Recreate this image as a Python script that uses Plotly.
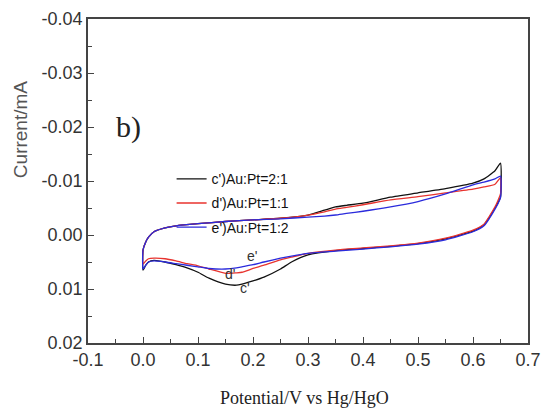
import plotly.graph_objects as go

# ---- data ----
x_upper = [0, 0.005, 0.01, 0.02, 0.04, 0.06, 0.1, 0.15, 0.2, 0.25, 0.3, 0.33, 0.35, 0.37,
           0.4, 0.45, 0.5, 0.55, 0.6, 0.62, 0.64, 0.65]
c_upper = [0.0028, 0.0013, 0.0004, -0.0006, -0.0013, -0.0017, -0.0021, -0.0025, -0.0028, -0.0031,
           -0.0037, -0.0046, -0.0052, -0.0055, -0.0059, -0.0070, -0.0078, -0.0086, -0.0096,
           -0.0104, -0.0119, -0.0133]
d_upper = [0.0028, 0.0013, 0.0004, -0.0006, -0.0013, -0.0017, -0.0021, -0.0025, -0.0028, -0.0031,
           -0.0037, -0.0043, -0.0048, -0.0051, -0.0056, -0.0065, -0.0071, -0.0078, -0.0085,
           -0.0089, -0.0094, -0.0106]
e_upper = [0.0028, 0.0013, 0.0004, -0.0006, -0.0013, -0.0017, -0.0021, -0.0025, -0.0028, -0.0030,
           -0.0033, -0.0035, -0.0037, -0.0040, -0.0044, -0.0052, -0.0062, -0.0076, -0.0093,
           -0.0098, -0.0104, -0.0109]

x_lower = [0.65, 0.645, 0.64, 0.63, 0.62, 0.6, 0.55, 0.5, 0.45, 0.4, 0.35, 0.3, 0.27, 0.25,
           0.22, 0.2, 0.18, 0.17, 0.15, 0.12, 0.1, 0.08, 0.06, 0.04, 0.02, 0.01, 0.005, 0]
c_lower = [-0.0070, -0.0059, -0.0050, -0.0033, -0.0019, -0.0007, 0.0007, 0.0016, 0.0021, 0.0025,
           0.0029, 0.0037, 0.0050, 0.0063, 0.0078, 0.0085, 0.0091, 0.0093, 0.0091, 0.0080,
           0.0069, 0.0061, 0.0055, 0.0050, 0.0047, 0.0050, 0.0056, 0.0065]
d_lower = [-0.0076, -0.0063, -0.0052, -0.0035, -0.0020, -0.0009, 0.0006, 0.0015, 0.0020, 0.0024,
           0.0028, 0.0034, 0.0041, 0.0046, 0.0056, 0.0062, 0.0069, 0.0070, 0.0071, 0.0063,
           0.0057, 0.0053, 0.0048, 0.0044, 0.0043, 0.0044, 0.0048, 0.0054]
e_lower = [-0.0069, -0.0057, -0.0048, -0.0031, -0.0017, -0.0006, 0.0009, 0.0017, 0.0022, 0.0026,
           0.0030, 0.0034, 0.0039, 0.0043, 0.0050, 0.0055, 0.0059, 0.0061, 0.0063, 0.0062,
           0.0059, 0.0056, 0.0053, 0.0050, 0.0048, 0.0050, 0.0056, 0.0063]

series_names = ["c')Au:Pt=2:1", "d')Au:Pt=1:1", "e')Au:Pt=1:2"]
series_colors = ["#111111", "#e8332e", "#2b2bdc"]
curve_labels = ["c'", "d'", "e'"]
label_x = [0.185, 0.158, 0.198]
label_y = [0.0098, 0.0072, 0.0039]

x_ticks = [-0.1, 0.0, 0.1, 0.2, 0.3, 0.4, 0.5, 0.6, 0.7]
x_tick_labels = ["-0.1", "0.0", "0.1", "0.2", "0.3", "0.4", "0.5", "0.6", "0.7"]
y_ticks = [-0.04, -0.03, -0.02, -0.01, 0.00, 0.01, 0.02]
y_tick_labels = ["-0.04", "-0.03", "-0.02", "-0.01", "0.00", "0.01", "0.02"]

uppers = [c_upper, d_upper, e_upper]
lowers = [c_lower, d_lower, e_lower]

fig = go.Figure()
for i in range(3):
    xs = x_upper + x_lower + [x_upper[0]]
    ys = uppers[i] + lowers[i] + [uppers[i][0]]
    fig.add_trace(go.Scatter(
        x=xs, y=ys, mode="lines", name=series_names[i],
        legendgroup=f"g{i}",
        line=dict(color=series_colors[i], width=1.3, shape="spline", smoothing=0.5),
    ))

for i in range(3):
    fig.add_annotation(x=label_x[i], y=label_y[i], text=curve_labels[i], showarrow=False,
                       xanchor="center", yanchor="middle",
                       font=dict(family="Liberation Sans, Arial", size=14, color="#333333"))

fig.add_annotation(x=0.0914, y=0.667, xref="paper", yref="paper", text="b)", showarrow=False,
                   xanchor="center", yanchor="middle",
                   font=dict(family="Liberation Serif, Times New Roman", size=30, color="#222222"))

fig.add_annotation(x=-0.1545, y=0.657, xref="paper", yref="paper", text="Current/mA",
                   textangle=-90, showarrow=False, xanchor="center", yanchor="middle",
                   font=dict(family="Liberation Sans, Arial", size=19, color="#555555"))

fig.add_annotation(x=0.493, y=-0.17, xref="paper", yref="paper", text="Potential/V vs Hg/HgO",
                   showarrow=False, xanchor="center", yanchor="middle",
                   font=dict(family="Liberation Serif, Times New Roman", size=18, color="#222222"))

axis_common = dict(
    showline=True, linecolor="#444444", linewidth=1.6, mirror=True,
    ticks="inside", ticklen=6, tickwidth=1.2, tickcolor="#444444",
    showgrid=False, zeroline=False,
    tickfont=dict(family="Liberation Sans, Arial", size=18, color="#333333"),
)

fig.update_xaxes(range=[-0.1, 0.7], tickvals=x_ticks, ticktext=x_tick_labels,
                 minor=dict(dtick=0.05, ticks="inside", ticklen=4, tickcolor="#444444", showgrid=False),
                 **axis_common)
fig.update_yaxes(range=[0.02, -0.04], tickvals=y_ticks, ticktext=y_tick_labels,
                 minor=dict(dtick=0.005, ticks="inside", ticklen=4, tickcolor="#444444", showgrid=False),
                 **axis_common)

fig.update_layout(
    width=542, height=408,
    margin=dict(l=88, r=14, t=19, b=65, autoexpand=False),
    paper_bgcolor="white", plot_bgcolor="white",
    showlegend=True,
    legend=dict(x=0.19, y=0.555, xanchor="left", yanchor="top",
                bgcolor="rgba(0,0,0,0)", borderwidth=0, tracegroupgap=3,
                font=dict(family="Liberation Sans, Arial", size=14, color="#111111")),
)

fig.write_html("out.html",
               config={"displayModeBar": False},
               post_script="document.body.style.margin='0';document.body.style.overflow='hidden';")
